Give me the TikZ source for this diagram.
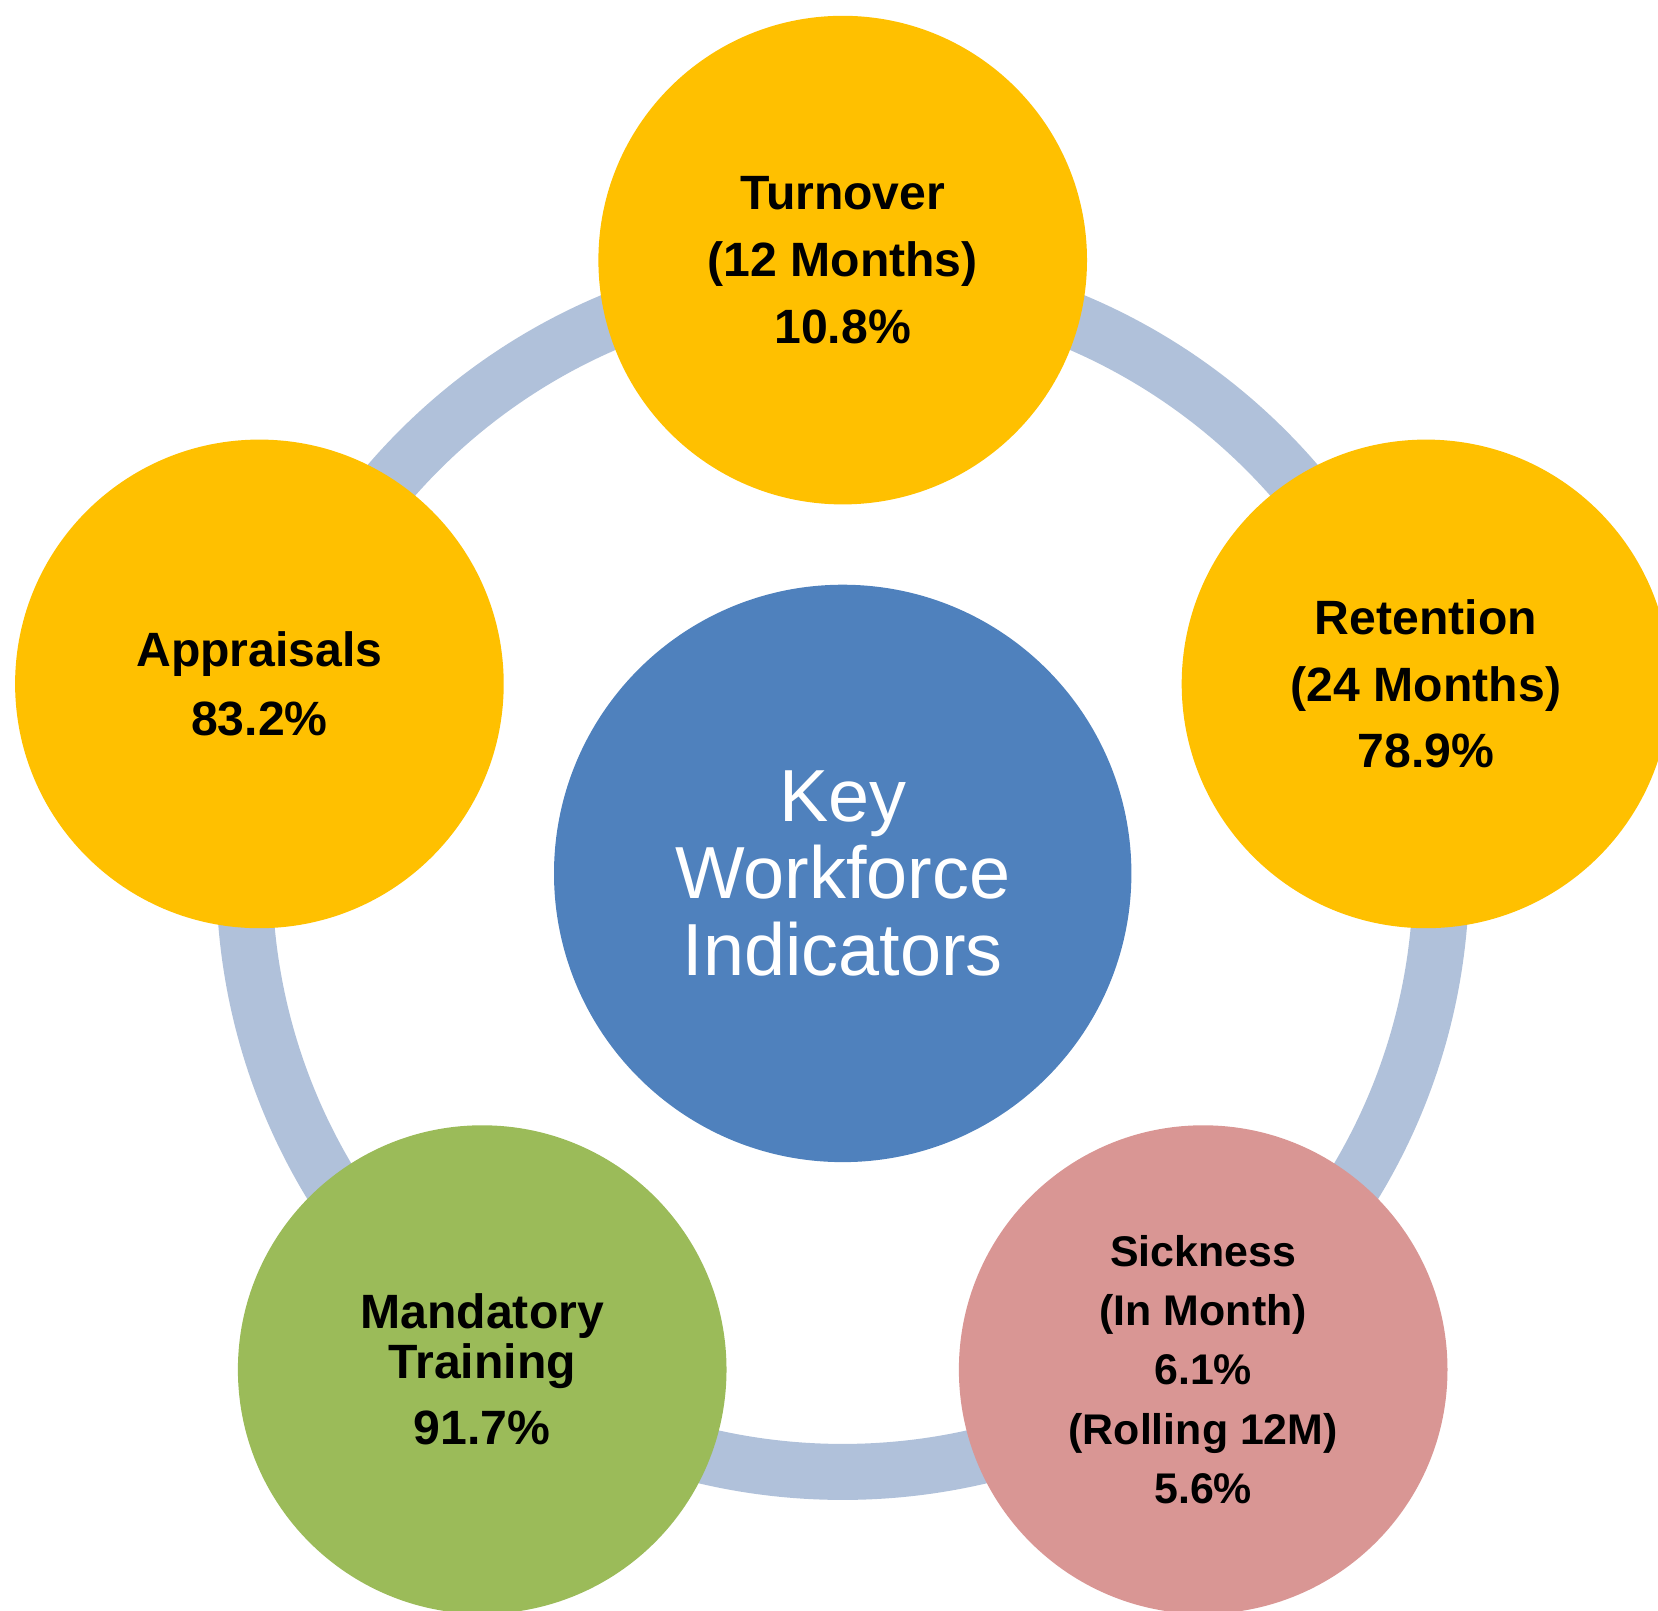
\documentclass[tikz,border=0pt]{standalone}
\usepackage{fontspec}
\setmainfont{Liberation Sans}
\usetikzlibrary{positioning,calc}
\definecolor{gold}{RGB}{255,192,0}
\definecolor{hubblue}{RGB}{79,129,189}
\definecolor{ringblue}{RGB}{176,193,218}
\definecolor{leaf}{RGB}{155,187,89}
\definecolor{rose}{RGB}{217,150,148}

\begin{document}
\begin{tikzpicture}[
    kpi/.style={circle,fill=gold,minimum size=4.886cm,inner sep=0pt,align=center,
                font=\bfseries\fontsize{13.7}{19}\selectfont},
    hubnode/.style={circle,fill=hubblue,minimum size=5.774cm,inner sep=0pt,align=center,
                text=white,font=\fontsize{21}{22}\selectfont}]
    \clip (-8.427,8.734) rectangle (8.153,-7.366);
    % ring behind the five indicators
    \draw[ringblue,line width=0.56cm] (0,0) circle (5.985);
    \node[hubnode] (hub) at (0,0) {Key\\Workforce\\Indicators};
    \node[kpi] (turn) at (90:6.133) {Turnover\\(12 Months)\\10.8\%};
    \node[kpi] (ret) at (18:6.133) {Retention\\(24 Months)\\78.9\%};
    \node[kpi,fill=rose,font=\bfseries\fontsize{12.2}{16.9}\selectfont] (sick) at (-54:6.133)
        {Sickness\\(In Month)\\6.1\%\\(Rolling 12M)\\5.6\%};
    \node[kpi,fill=leaf,font=\bfseries\fontsize{13.7}{14.2}\selectfont] (mand) at (-126:6.133)
        {Mandatory\\Training\\[4.5pt]91.7\%};
    \node[kpi,font=\bfseries\fontsize{13.7}{19.5}\selectfont] (appr) at (162:6.133) {Appraisals\\83.2\%};
\end{tikzpicture}
\end{document}
